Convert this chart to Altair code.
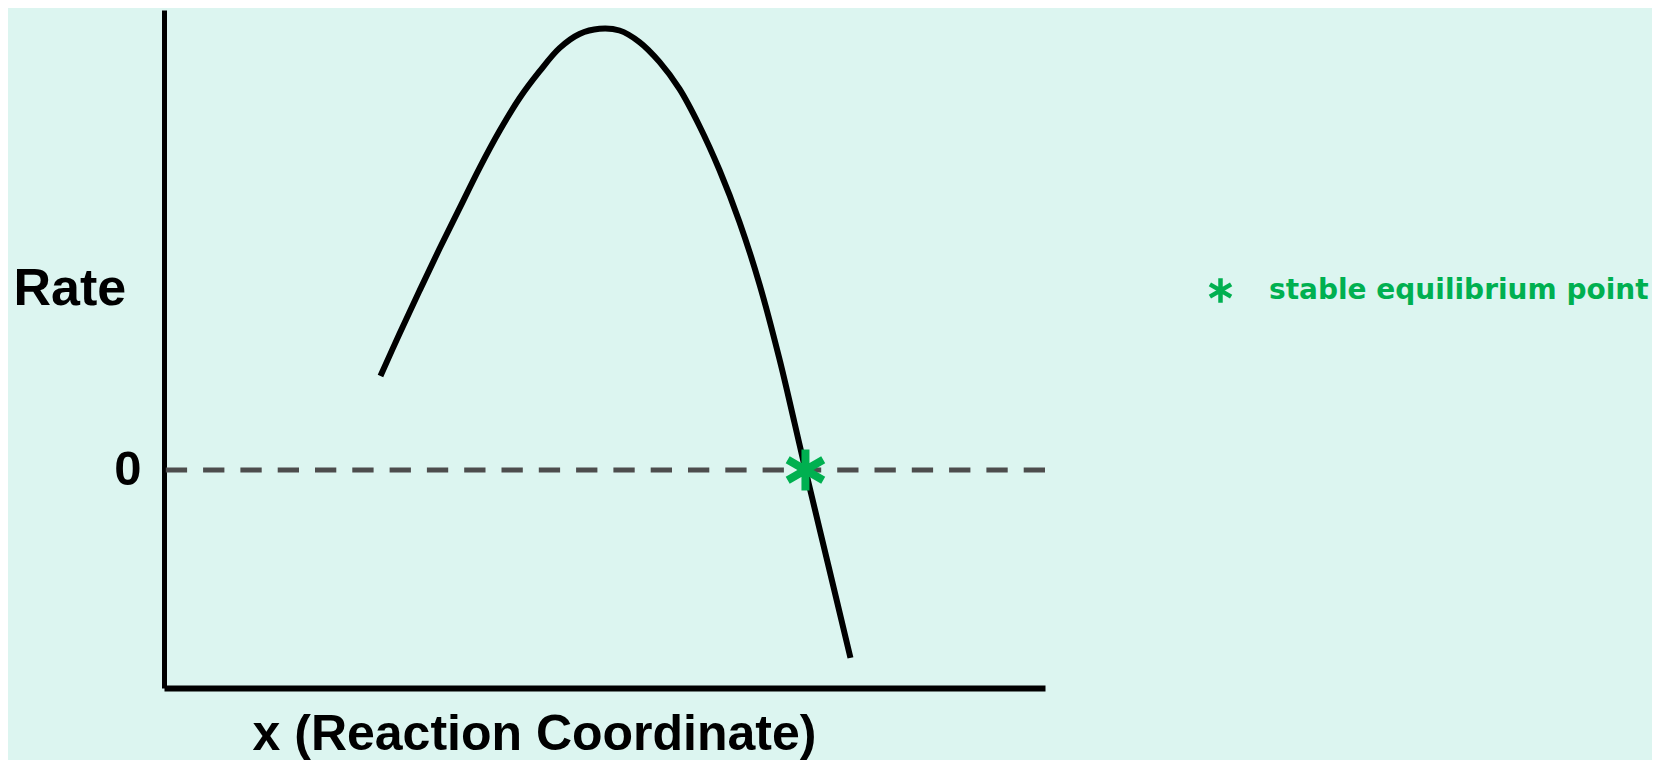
import altair as alt
import pandas as pd

# Curve: reaction rate vs reaction coordinate
curve_x = [2.457, 2.673, 2.900, 3.127, 3.354, 3.581, 3.808, 4.035, 4.262, 4.489,
           4.716, 4.943, 5.170, 5.397, 5.624, 5.851, 6.078, 6.305, 6.532, 6.759,
           6.986, 7.157, 7.281, 7.537, 7.792]
curve_y = [0.431, 0.625, 0.822, 1.015, 1.200, 1.385, 1.555, 1.705, 1.828, 1.935,
           2.000, 2.024, 2.016, 1.963, 1.872, 1.748, 1.578, 1.376, 1.138, 0.853,
           0.509, 0.216, 0.000, -0.431, -0.862]

# Stable equilibrium point
eq_x = [7.281]
eq_y = [0.0]
eq_label = ["stable equilibrium point"]

zero_level = [0.0]
y_ticks = [0]

GREEN = "#00B050"
ASTERISK = "M0,-1L0,1M-0.866,-0.5L0.866,0.5M-0.866,0.5L0.866,-0.5"

curve_df = pd.DataFrame({"x": curve_x, "rate": curve_y})
eq_df = pd.DataFrame({"x": eq_x, "rate": eq_y, "kind": eq_label})
zero_df = pd.DataFrame({"rate": zero_level})

x_scale = alt.Scale(domain=[0, 10], nice=False, zero=False)
y_scale = alt.Scale(domain=[-1, 2.11], nice=False, zero=False)

x_axis = alt.Axis(
    title="x (Reaction Coordinate)", labels=False, ticks=False, grid=False,
    domainColor="black", domainWidth=6,
    titleFont="Liberation Sans", titleFontSize=50, titleFontWeight="bold",
    titleColor="black", titleX=370, titleY=61, titleAlign="center",
    titleBaseline="alphabetic",
)
y_axis = alt.Axis(
    title="Rate", values=y_ticks, ticks=False, grid=False,
    domainColor="black", domainWidth=5,
    labelFont="Liberation Sans", labelFontSize=49, labelFontWeight="bold",
    labelColor="black", labelPadding=23,
    titleFont="Liberation Sans", titleFontSize=52, titleFontWeight="bold",
    titleColor="black", titleAngle=0, titleX=-151, titleY=294,
    titleAlign="left", titleBaseline="alphabetic",
)

dashed = alt.Chart(zero_df).mark_rule(
    color="#4D4D4D", strokeWidth=5, strokeDash=[21.3, 16]
).encode(
    y=alt.Y("rate:Q", scale=y_scale, axis=y_axis)
)

line = alt.Chart(curve_df).mark_line(
    color="black", strokeWidth=6, interpolate="catmull-rom"
).encode(
    x=alt.X("x:Q", scale=x_scale, axis=x_axis),
    y=alt.Y("rate:Q", scale=y_scale, axis=y_axis),
)

star = alt.Chart(eq_df).mark_point(
    shape=ASTERISK, filled=False, size=1681, strokeWidth=8, opacity=1
).encode(
    x=alt.X("x:Q", scale=x_scale, axis=x_axis),
    y=alt.Y("rate:Q", scale=y_scale, axis=y_axis),
    color=alt.Color(
        "kind:N",
        scale=alt.Scale(range=[GREEN]),
        legend=alt.Legend(
            title=None, orient="none", legendX=1042, legendY=266,
            symbolType=ASTERISK, symbolSize=600, symbolStrokeWidth=4.5,
            symbolStrokeColor=GREEN, labelFont="DejaVu Sans",
            labelFontSize=28, labelFontWeight="bold", labelColor=GREEN,
            labelOffset=34, labelLimit=600, padding=0,
        ),
    ),
)

chart = alt.layer(dashed, line, star).properties(
    width=881, height=678,
    background="#DCF5F0",
    padding={"left": 156, "top": 2, "right": 607, "bottom": 72},
    autosize=alt.AutoSizeParams(type="none"),
).configure_view(stroke=None)

chart.save("out.html", embed_options={"renderer": "svg", "actions": False})
